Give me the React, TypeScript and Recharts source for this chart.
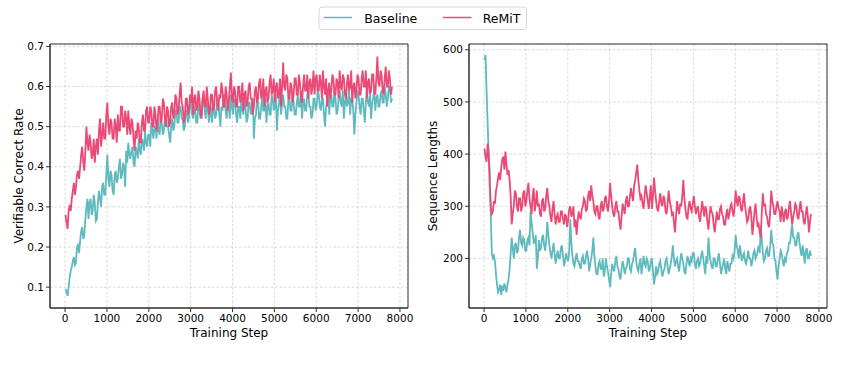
import React from 'react';
import { LineChart, Line, XAxis, YAxis, CartesianGrid, ReferenceArea } from 'recharts';

const steps = [
  10, 35, 60, 85, 110, 135, 160, 185, 210, 235, 260, 285, 310, 335, 360, 385, 410, 435, 460, 485,
  510, 535, 560, 585, 610, 635, 660, 685, 710, 735, 760, 785, 810, 835, 860, 885, 910, 935, 960, 985,
  1010, 1035, 1060, 1085, 1110, 1135, 1160, 1185, 1210, 1235, 1260, 1285, 1310, 1335, 1360, 1385, 1410, 1435, 1460, 1485,
  1510, 1535, 1560, 1585, 1610, 1635, 1660, 1685, 1710, 1735, 1760, 1785, 1810, 1835, 1860, 1885, 1910, 1935, 1960, 1985,
  2010, 2035, 2060, 2085, 2110, 2135, 2160, 2185, 2210, 2235, 2260, 2285, 2310, 2335, 2360, 2385, 2410, 2435, 2460, 2485,
  2510, 2535, 2560, 2585, 2610, 2635, 2660, 2685, 2710, 2735, 2760, 2785, 2810, 2835, 2860, 2885, 2910, 2935, 2960, 2985,
  3010, 3035, 3060, 3085, 3110, 3135, 3160, 3185, 3210, 3235, 3260, 3285, 3310, 3335, 3360, 3385, 3410, 3435, 3460, 3485,
  3510, 3535, 3560, 3585, 3610, 3635, 3660, 3685, 3710, 3735, 3760, 3785, 3810, 3835, 3860, 3885, 3910, 3935, 3960, 3985,
  4010, 4035, 4060, 4085, 4110, 4135, 4160, 4185, 4210, 4235, 4260, 4285, 4310, 4335, 4360, 4385, 4410, 4435, 4460, 4485,
  4510, 4535, 4560, 4585, 4610, 4635, 4660, 4685, 4710, 4735, 4760, 4785, 4810, 4835, 4860, 4885, 4910, 4935, 4960, 4985,
  5010, 5035, 5060, 5085, 5110, 5135, 5160, 5185, 5210, 5235, 5260, 5285, 5310, 5335, 5360, 5385, 5410, 5435, 5460, 5485,
  5510, 5535, 5560, 5585, 5610, 5635, 5660, 5685, 5710, 5735, 5760, 5785, 5810, 5835, 5860, 5885, 5910, 5935, 5960, 5985,
  6010, 6035, 6060, 6085, 6110, 6135, 6160, 6185, 6210, 6235, 6260, 6285, 6310, 6335, 6360, 6385, 6410, 6435, 6460, 6485,
  6510, 6535, 6560, 6585, 6610, 6635, 6660, 6685, 6710, 6735, 6760, 6785, 6810, 6835, 6860, 6885, 6910, 6935, 6960, 6985,
  7010, 7035, 7060, 7085, 7110, 7135, 7160, 7185, 7210, 7235, 7260, 7285, 7310, 7335, 7360, 7385, 7410, 7435, 7460, 7485,
  7510, 7535, 7560, 7585, 7610, 7635, 7660, 7685, 7710, 7735, 7760, 7785, 7810,
];

const baselineAcc = [
  0.095, 0.088, 0.078, 0.10, 0.125, 0.14, 0.15, 0.165, 0.175, 0.155, 0.16, 0.20, 0.205, 0.185, 0.215, 0.24, 0.25, 0.22, 0.23, 0.27,
  0.30, 0.32, 0.27, 0.31, 0.32, 0.28, 0.29, 0.33, 0.31, 0.265, 0.27, 0.31, 0.34, 0.32, 0.30, 0.35, 0.36, 0.33, 0.33, 0.38,
  0.43, 0.37, 0.35, 0.39, 0.38, 0.34, 0.33, 0.38, 0.39, 0.36, 0.37, 0.40, 0.42, 0.37, 0.38, 0.41, 0.40, 0.35, 0.44, 0.41,
  0.46, 0.43, 0.42, 0.44, 0.45, 0.41, 0.40, 0.45, 0.44, 0.42, 0.47, 0.44, 0.43, 0.47, 0.46, 0.44, 0.49, 0.46, 0.45, 0.48,
  0.48, 0.45, 0.51, 0.49, 0.47, 0.50, 0.50, 0.47, 0.52, 0.49, 0.48, 0.53, 0.51, 0.48, 0.49, 0.52, 0.53, 0.50, 0.50, 0.48,
  0.46, 0.50, 0.52, 0.49, 0.50, 0.54, 0.54, 0.51, 0.51, 0.55, 0.55, 0.52, 0.52, 0.49, 0.50, 0.54, 0.54, 0.51, 0.52, 0.56,
  0.56, 0.53, 0.52, 0.55, 0.54, 0.51, 0.51, 0.56, 0.55, 0.52, 0.53, 0.57, 0.57, 0.54, 0.52, 0.56, 0.55, 0.51, 0.53, 0.55,
  0.51, 0.54, 0.55, 0.52, 0.53, 0.57, 0.56, 0.53, 0.50, 0.55, 0.54, 0.58, 0.57, 0.54, 0.52, 0.56, 0.55, 0.52, 0.58, 0.55,
  0.53, 0.57, 0.56, 0.53, 0.51, 0.55, 0.55, 0.52, 0.57, 0.54, 0.53, 0.57, 0.55, 0.51, 0.52, 0.56, 0.56, 0.53, 0.54, 0.57,
  0.47, 0.52, 0.53, 0.57, 0.56, 0.52, 0.52, 0.55, 0.58, 0.54, 0.54, 0.57, 0.51, 0.55, 0.56, 0.53, 0.53, 0.58, 0.57, 0.54,
  0.55, 0.58, 0.49, 0.54, 0.56, 0.59, 0.53, 0.56, 0.58, 0.55, 0.55, 0.52, 0.52, 0.57, 0.57, 0.54, 0.54, 0.58, 0.56, 0.53,
  0.53, 0.56, 0.58, 0.55, 0.55, 0.59, 0.52, 0.56, 0.57, 0.54, 0.54, 0.58, 0.59, 0.55, 0.55, 0.52, 0.53, 0.57, 0.57, 0.54,
  0.55, 0.59, 0.58, 0.55, 0.54, 0.57, 0.57, 0.53, 0.50, 0.55, 0.56, 0.59, 0.53, 0.57, 0.58, 0.55, 0.55, 0.59, 0.57, 0.53,
  0.54, 0.57, 0.59, 0.56, 0.55, 0.59, 0.52, 0.56, 0.58, 0.55, 0.56, 0.60, 0.53, 0.57, 0.57, 0.54, 0.48, 0.53, 0.56, 0.59,
  0.58, 0.55, 0.53, 0.57, 0.57, 0.54, 0.51, 0.56, 0.59, 0.56, 0.55, 0.58, 0.52, 0.56, 0.57, 0.60, 0.54, 0.57, 0.58, 0.55,
  0.55, 0.58, 0.59, 0.56, 0.56, 0.60, 0.58, 0.55, 0.57, 0.60, 0.60, 0.56, 0.57,
];

const remitAcc = [
  0.28, 0.26, 0.245, 0.29, 0.305, 0.29, 0.32, 0.34, 0.36, 0.33, 0.35, 0.38, 0.39, 0.37, 0.40, 0.43, 0.45, 0.41, 0.39, 0.44,
  0.50, 0.46, 0.44, 0.48, 0.46, 0.42, 0.43, 0.47, 0.41, 0.45, 0.47, 0.43, 0.49, 0.52, 0.45, 0.48, 0.51, 0.47, 0.47, 0.53,
  0.56, 0.50, 0.48, 0.52, 0.51, 0.47, 0.47, 0.52, 0.50, 0.46, 0.53, 0.49, 0.49, 0.55, 0.55, 0.50, 0.50, 0.54, 0.52, 0.48,
  0.54, 0.50, 0.48, 0.52, 0.51, 0.47, 0.44, 0.49, 0.47, 0.51, 0.50, 0.46, 0.46, 0.51, 0.53, 0.49, 0.49, 0.54, 0.55, 0.51,
  0.51, 0.55, 0.54, 0.50, 0.50, 0.55, 0.53, 0.49, 0.51, 0.55, 0.55, 0.51, 0.52, 0.57, 0.56, 0.52, 0.50, 0.55, 0.54, 0.50,
  0.51, 0.55, 0.56, 0.52, 0.53, 0.58, 0.57, 0.53, 0.54, 0.58, 0.61, 0.56, 0.55, 0.51, 0.52, 0.57, 0.57, 0.53, 0.54, 0.58,
  0.56, 0.60, 0.53, 0.57, 0.58, 0.54, 0.55, 0.59, 0.57, 0.53, 0.52, 0.57, 0.59, 0.55, 0.55, 0.60, 0.57, 0.53, 0.54, 0.58,
  0.58, 0.54, 0.55, 0.59, 0.60, 0.56, 0.54, 0.58, 0.57, 0.61, 0.59, 0.55, 0.55, 0.60, 0.58, 0.54, 0.56, 0.60, 0.635, 0.57,
  0.56, 0.60, 0.59, 0.55, 0.55, 0.60, 0.60, 0.56, 0.57, 0.61, 0.54, 0.58, 0.59, 0.55, 0.56, 0.60, 0.61, 0.57, 0.57, 0.53,
  0.55, 0.59, 0.60, 0.56, 0.57, 0.61, 0.62, 0.57, 0.58, 0.62, 0.55, 0.59, 0.60, 0.56, 0.57, 0.61, 0.63, 0.58, 0.59, 0.62,
  0.56, 0.60, 0.61, 0.57, 0.58, 0.62, 0.55, 0.60, 0.66, 0.60, 0.59, 0.63, 0.62, 0.57, 0.57, 0.61, 0.60, 0.56, 0.58, 0.62,
  0.62, 0.58, 0.58, 0.63, 0.61, 0.57, 0.56, 0.60, 0.63, 0.59, 0.59, 0.63, 0.57, 0.61, 0.62, 0.58, 0.60, 0.64, 0.58, 0.62,
  0.63, 0.59, 0.59, 0.63, 0.61, 0.57, 0.64, 0.60, 0.58, 0.62, 0.55, 0.59, 0.61, 0.57, 0.59, 0.63, 0.62, 0.58, 0.58, 0.62,
  0.61, 0.57, 0.64, 0.60, 0.59, 0.63, 0.62, 0.58, 0.57, 0.61, 0.63, 0.59, 0.60, 0.64, 0.56, 0.60, 0.61, 0.57, 0.59, 0.63,
  0.62, 0.58, 0.58, 0.62, 0.64, 0.60, 0.60, 0.64, 0.57, 0.61, 0.62, 0.58, 0.59, 0.63, 0.63, 0.59, 0.58, 0.62, 0.675, 0.61,
  0.60, 0.64, 0.63, 0.59, 0.58, 0.62, 0.65, 0.60, 0.60, 0.64, 0.62, 0.58, 0.60,
];

const baselineLen = [
  580, 590, 520, 460, 400, 370, 280, 210, 200, 205, 195, 170, 150, 135, 140, 150, 130, 148, 138, 152,
  145, 135, 150, 160, 180, 210, 240, 220, 200, 225, 230, 210, 215, 240, 255, 230, 225, 240, 235, 215,
  215, 235, 240, 225, 290, 270, 250, 230, 230, 245, 180, 200, 235, 215, 220, 240, 245, 225, 215, 235,
  270, 245, 225, 210, 200, 215, 230, 210, 190, 205, 215, 200, 200, 220, 225, 205, 185, 195, 210, 200,
  195, 215, 275, 230, 205, 190, 185, 200, 210, 195, 195, 185, 180, 200, 205, 190, 190, 205, 215, 200,
  175, 190, 200, 215, 240, 205, 185, 170, 170, 190, 195, 180, 180, 200, 165, 175, 200, 185, 175, 160,
  145, 170, 190, 180, 175, 195, 205, 185, 180, 165, 160, 180, 195, 185, 170, 180, 185, 200, 200, 180,
  175, 190, 195, 210, 220, 195, 180, 175, 190, 200, 170, 185, 205, 190, 185, 200, 195, 175, 180, 195,
  200, 175, 150, 165, 185, 170, 175, 190, 195, 180, 165, 175, 180, 195, 200, 185, 170, 180, 190, 205,
  225, 200, 185, 195, 200, 185, 175, 195, 210, 200, 190, 175, 170, 190, 205, 195, 185, 200, 195, 210,
  210, 190, 180, 195, 200, 185, 190, 205, 215, 200, 185, 170, 205, 190, 240, 210, 195, 185, 180, 200,
  200, 185, 185, 200, 210, 190, 170, 180, 190, 200, 180, 170, 195, 185, 175, 190, 190, 205, 200, 215,
  245, 225, 215, 200, 225, 210, 195, 205, 210, 195, 190, 200, 215, 200, 200, 185, 195, 210, 215, 200,
  205, 215, 225, 210, 262, 235, 210, 195, 200, 215, 220, 205, 205, 225, 255, 230, 225, 200, 195, 175,
  160, 185, 200, 215, 210, 195, 185, 200, 195, 210, 215, 230, 230, 250, 265, 240, 240, 225, 225, 245,
  250, 230, 215, 205, 225, 210, 190, 215, 220, 200, 200, 215, 205,
];

const remitLen = [
  410, 395, 385, 420, 400, 340, 300, 285, 290, 310, 305, 330, 340, 355, 365, 350, 375, 390, 395, 370,
  405, 380, 360, 370, 350, 320, 265, 285, 300, 330, 325, 300, 290, 315, 315, 290, 300, 325, 330, 300,
  310, 330, 345, 315, 300, 285, 320, 335, 290, 305, 330, 300, 305, 285, 280, 310, 315, 290, 295, 320,
  335, 310, 300, 280, 270, 295, 310, 285, 265, 280, 285, 270, 270, 290, 290, 275, 265, 285, 280, 260,
  275, 295, 300, 280, 285, 300, 260, 275, 245, 270, 290, 280, 275, 295, 300, 315, 310, 290, 295, 320,
  330, 310, 340, 320, 310, 290, 285, 300, 300, 280, 275, 300, 310, 290, 295, 315, 320, 300, 290, 310,
  345, 320, 300, 285, 280, 300, 310, 290, 290, 270, 255, 280, 305, 295, 285, 310, 320, 300, 300, 320,
  335, 320, 310, 340, 350, 365, 380, 350, 330, 315, 320, 305, 295, 320, 340, 325, 310, 295, 320, 340,
  295, 320, 355, 330, 310, 295, 290, 310, 325, 305, 300, 320, 315, 290, 285, 305, 330, 310, 300, 285,
  290, 270, 250, 280, 310, 295, 285, 305, 300, 320, 350, 315, 295, 280, 275, 300, 310, 295, 290, 305,
  320, 300, 285, 295, 300, 280, 270, 290, 310, 295, 280, 300, 295, 270, 255, 280, 300, 290, 285, 265,
  250, 270, 290, 275, 275, 295, 300, 285, 280, 265, 265, 285, 295, 275, 285, 300, 305, 290, 280, 300,
  330, 310, 300, 320, 315, 295, 290, 310, 325, 300, 285, 270, 275, 295, 300, 280, 245, 265, 290, 305,
  280, 260, 265, 250, 240, 290, 325, 300, 305, 285, 280, 265, 260, 290, 330, 310, 300, 285, 285, 300,
  310, 295, 290, 270, 300, 285, 270, 290, 295, 275, 280, 300, 310, 285, 265, 280, 290, 305, 300, 280,
  275, 295, 310, 290, 290, 270, 265, 285, 300, 280, 250, 270, 285,
];

const seriesNames = ['Baseline', 'ReMiT'];
const xTicks = [0, 1000, 2000, 3000, 4000, 5000, 6000, 7000, 8000];
const accTicks = [0.1, 0.2, 0.3, 0.4, 0.5, 0.6, 0.7];
const lenTicks = [200, 300, 400, 500, 600];

const COLORS: Record<string, string> = { Baseline: '#5fbabe', ReMiT: '#ea4a75' };
const FONT = "'DejaVu Sans', sans-serif";
const AXIS = '#333333';
const X_DOMAIN: [number, number] = [-360, 8192];

const accData = steps.map((s, i) => ({ step: s, Baseline: baselineAcc[i], ReMiT: remitAcc[i] }));
const lenData = steps.map((s, i) => ({ step: s, Baseline: baselineLen[i], ReMiT: remitLen[i] }));

type PanelProps = {
  data: any[];
  width: number;
  yAxisWidth: number;
  rightMargin: number;
  yDomain: [number, number];
  yTicks: number[];
  yLabel: string;
  yLabelOffset: number;
  fmt: (v: number) => string;
};

function Panel(p: PanelProps) {
  const tickStyle = { fontSize: 10.5, fill: '#000', fontFamily: FONT };
  return (
    <LineChart
      width={p.width}
      height={371}
      data={p.data}
      margin={{ top: 44, right: p.rightMargin, left: 0, bottom: 0 }}
    >
      <CartesianGrid stroke="#c8c8c8" strokeDasharray="2.5 2" strokeWidth={0.7} />
      <XAxis
        dataKey="step"
        type="number"
        domain={X_DOMAIN}
        ticks={xTicks}
        allowDataOverflow
        height={63}
        tick={tickStyle}
        tickSize={4}
        tickMargin={3}
        stroke={AXIS}
        tickLine={{ stroke: AXIS }}
        axisLine={{ stroke: AXIS, strokeWidth: 1 }}
        label={{ value: 'Training Step', position: 'insideBottom', offset: 34.5, fontSize: 12, fill: '#000', fontFamily: FONT }}
      />
      <YAxis
        type="number"
        domain={p.yDomain}
        ticks={p.yTicks}
        allowDataOverflow
        width={p.yAxisWidth}
        tick={tickStyle}
        tickSize={4}
        tickMargin={2}
        tickFormatter={p.fmt}
        stroke={AXIS}
        tickLine={{ stroke: AXIS }}
        axisLine={{ stroke: AXIS, strokeWidth: 1 }}
        label={{ value: p.yLabel, angle: -90, position: 'insideLeft', offset: p.yLabelOffset, fontSize: 12, fill: '#000', fontFamily: FONT, style: { textAnchor: 'middle' } }}
      />
      {seriesNames.map((n) => (
        <Line
          key={n}
          dataKey={n}
          type="linear"
          stroke={COLORS[n]}
          strokeWidth={1.8}
          strokeLinejoin="miter"
          dot={false}
          isAnimationActive={false}
        />
      ))}
      <ReferenceArea
        x1={X_DOMAIN[0]}
        x2={X_DOMAIN[1]}
        y1={p.yDomain[0]}
        y2={p.yDomain[1]}
        fill="none"
        fillOpacity={0}
        stroke={AXIS}
        strokeWidth={1}
        ifOverflow="visible"
      />
    </LineChart>
  );
}

function LegendBox() {
  return (
    <svg width={210} height={25} style={{ position: 'absolute', left: 318, top: 6 }}>
      <rect x={1} y={1} width={207.5} height={22.5} rx={3} ry={3} fill="#fff" stroke="#d6d6d6" strokeWidth={1} />
      <line x1={6} x2={34} y1={11.5} y2={11.5} stroke={COLORS.Baseline} strokeWidth={1.5} />
      <text x={46.3} y={12.5} fontSize={12.5} fontFamily={FONT} dominantBaseline="central" fill="#000">{seriesNames[0]}</text>
      <line x1={125} x2={153.5} y1={11.5} y2={11.5} stroke={COLORS.ReMiT} strokeWidth={1.5} />
      <text x={164.7} y={12.5} fontSize={12.5} fontFamily={FONT} dominantBaseline="central" fill="#000">{seriesNames[1]}</text>
    </svg>
  );
}

export default function App() {
  return (
    <div style={{ position: 'absolute', left: 0, top: 0, width: 847, height: 371, background: '#fff', fontFamily: FONT }}>
      <div style={{ position: 'absolute', left: 0, top: 0 }}>
        <Panel
          data={accData}
          width={420}
          yAxisWidth={50}
          rightMargin={12}
          yDomain={[0.048, 0.706]}
          yTicks={accTicks}
          yLabel="Verifiable Correct Rate"
          yLabelOffset={18.5}
          fmt={(v) => v.toFixed(1)}
        />
      </div>
      <div style={{ position: 'absolute', left: 420, top: 0 }}>
        <Panel
          data={lenData}
          width={427}
          yAxisWidth={49}
          rightMargin={20}
          yDomain={[105, 611]}
          yTicks={lenTicks}
          yLabel="Sequence Lengths"
          yLabelOffset={12.5}
          fmt={(v) => String(v)}
        />
      </div>
      <LegendBox />
    </div>
  );
}
